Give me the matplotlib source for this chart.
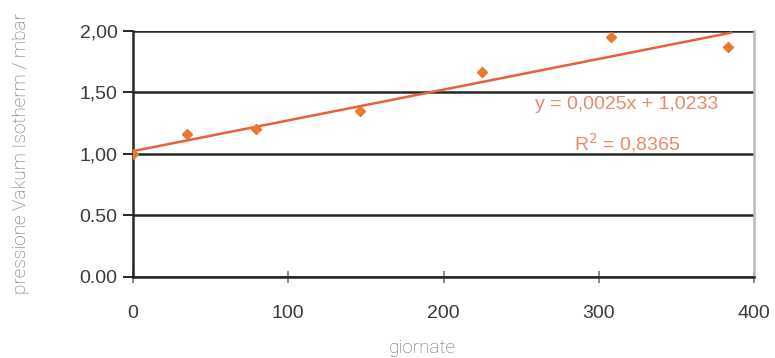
import numpy as np
import matplotlib.pyplot as plt

# data
giorni = [0, 35, 79, 146, 225, 308, 383]
pressione = [1.00, 1.16, 1.20, 1.35, 1.67, 1.95, 1.87]
pendenza = 0.0025
intercetta = 1.0233
yticks = [0.0, 0.5, 1.0, 1.5, 2.0]
ytick_labels = ['0.00', '0.50', '1,00', '1,50', '2,00']
xticks = [0, 100, 200, 300, 400]

fig = plt.figure(figsize=(7.75, 3.58), dpi=100)
ax = fig.add_axes([0.1716, 0.2263, 0.8015, 0.6871])

for y in yticks:
    ax.axhline(y, color='#262626', lw=1.8, zorder=1)

xs = np.array([0, 385])
ax.plot(xs, pendenza * xs + intercetta, color='#e8603a', lw=1.8, zorder=3)
ax.plot(giorni, pressione, 'D', color='#e8782e', ms=5.5, zorder=4)

ax.set_xlim(0, 400)
ax.set_ylim(0, 2.0)
ax.set_xticks(xticks)
ax.set_yticks(yticks)
ax.set_yticklabels(ytick_labels)

ax.spines['top'].set_visible(False)
ax.spines['right'].set_color('#bbbbbb')
ax.spines['right'].set_linewidth(1.8)
for s in ['left', 'bottom']:
    ax.spines[s].set_color('#262626')
    ax.spines[s].set_linewidth(1.8)

ax.tick_params(axis='y', direction='out', length=7, width=1.4, color='#262626',
               labelsize=14, labelcolor='#3a3a3a', pad=4)
ax.tick_params(axis='x', direction='inout', length=8, width=1.2, color='#777777',
               labelsize=14, labelcolor='#3a3a3a', pad=16)
for lab in ax.get_xticklabels() + ax.get_yticklabels():
    lab.set_family('Liberation Sans')

ax.text(0.795, 0.70, 'y = 0,0025x + 1,0233', transform=ax.transAxes,
        ha='center', va='center', color='#ea8a66', fontsize=14,
        family='Liberation Sans')
ax.text(0.795, 0.545, 'R$^2$ = 0,8365', transform=ax.transAxes,
        ha='center', va='center', color='#ea8a66', fontsize=14,
        family='Liberation Sans')

fig.text(0.027, 0.57, 'pressione Vakum Isotherm / mbar', rotation=90,
         ha='center', va='center', fontsize=13.7, color='#6a6a6a',
         family='Roboto', fontweight='light')
fig.text(0.545, 0.028, 'giornate', ha='center', va='center', fontsize=13.7,
         color='#6a6a6a', family='Roboto', fontweight='light')

fig.savefig('out.png', dpi=100)
